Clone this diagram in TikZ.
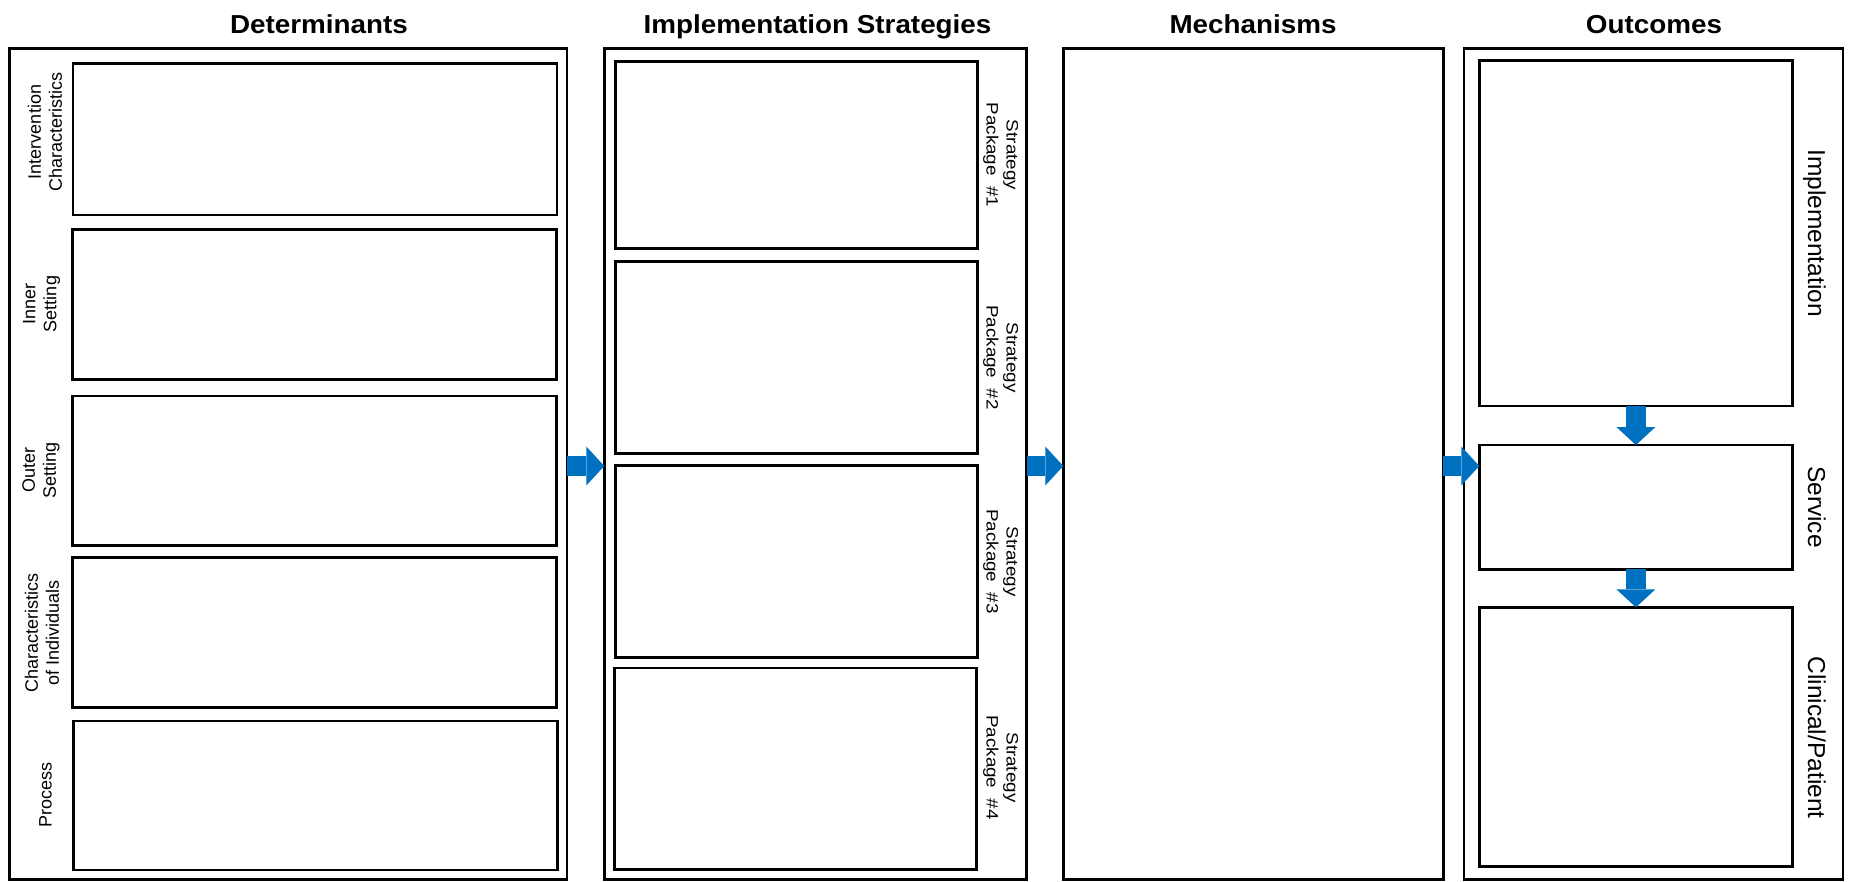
\documentclass[tikz,border=0pt]{standalone}
\usepackage{fontspec}
\setmainfont{Liberation Sans}
\usepackage{tikz}
\usetikzlibrary{arrows.meta}
\definecolor{flowblue}{HTML}{0070C0}

\begin{document}
\begin{tikzpicture}[x=1pt,y=-1pt,
	column/.style={shape=rectangle,draw=black,line width=2.5pt,inner sep=0pt,outer sep=0pt,minimum height=831pt},
	cell/.style={shape=rectangle,draw=black,line width=2.5pt,inner sep=0pt,outer sep=0pt},
	heading/.style={anchor=base,inner sep=0pt,xscale=1.07,font=\fontsize{26}{30}\selectfont\bfseries},
	detlabel/.style={rotate=90,align=center,inner sep=0pt,font=\fontsize{18}{21}\selectfont},
	pkglabel/.style={rotate=-90,xscale=1.14,align=center,inner sep=0pt,font=\fontsize{16.5}{20}\selectfont},
	outlabel/.style={rotate=-90,anchor=base,inner sep=0pt,font=\fontsize{24.5}{28}\selectfont},
	flow/.style={line width=20pt,flowblue,-{Triangle[length=18pt,width=39pt,line width=0pt]}}]
			\useasboundingbox (0,0) rectangle (1850,881);
			
			\node[heading] (hdet) at (319,33) {Determinants};
			\node[heading] (himp) at (817.5,33) {Implementation Strategies};
			\node[heading] (hmech) at (1253,33) {Mechanisms};
			\node[heading] (hout) at (1654,33) {Outcomes};
			
			\node[column,minimum width=557.5pt] (det) at (288.25,464) {};
			\node[column,minimum width=422.4pt] (imp) at (815.5,464) {};
			\node[column,minimum width=380pt] (mech) at (1253.3,464) {};
			\node[column,minimum width=379pt] (out) at (1653.5,464) {};
			
			% determinants
			\node[cell,minimum width=484pt,minimum height=151.7pt] (d1) at (315,139.15) {};
			\node[cell,minimum width=484pt,minimum height=150pt] (d2) at (314.5,304.3) {};
			\node[cell,minimum width=484pt,minimum height=149.7pt] (d3) at (314.5,470.85) {};
			\node[cell,minimum width=484pt,minimum height=150pt] (d4) at (314.5,632.7) {};
			\node[cell,minimum width=484pt,minimum height=149pt] (d5) at (315.5,795.5) {};
			\node[detlabel] (ld1) at (45,132) {Intervention\\Characteristics};
			\node[detlabel] (ld2) at (41.5,304) {Inner\\Setting};
			\node[detlabel] (ld3) at (41,470) {Outer\\Setting};
			\node[detlabel] (ld4) at (42,633) {Characteristics\\of Individuals};
			\node[detlabel] (ld5) at (45.5,795) {Process};
			
			% strategy packages
			\node[cell,minimum width=361.8pt,minimum height=186.6pt] (s1) at (796.4,155) {};
			\node[cell,minimum width=361.8pt,minimum height=191.6pt] (s2) at (796.4,357.5) {};
			\node[cell,minimum width=361.8pt,minimum height=192.4pt] (s3) at (796.4,561.5) {};
			\node[cell,minimum width=362.4pt,minimum height=201.3pt] (s4) at (795.5,768.65) {};
			\node[pkglabel] (ls1) at (1000.7,155) {Strategy\\Package\ \ \#1};
			\node[pkglabel] (ls2) at (1000.7,357.5) {Strategy\\Package\ \ \#2};
			\node[pkglabel] (ls3) at (1000.7,561.5) {Strategy\\Package\ \ \#3};
			\node[pkglabel] (ls4) at (1000.7,767.5) {Strategy\\Package\ \ \#4};
			
			% outcomes
			\node[cell,minimum width=313.2pt,minimum height=345.3pt] (o1) at (1635.9,233.35) {};
			\node[cell,minimum width=313.2pt,minimum height=124.3pt] (o2) at (1635.9,507.15) {};
			\node[cell,minimum width=313.2pt,minimum height=259.4pt] (o3) at (1635.9,737) {};
			\node[outlabel] (lo1) at (1808,233) {Implementation};
			\node[outlabel] (lo2) at (1808,507) {Service};
			\node[outlabel] (lo3) at (1808,737.5) {Clinical/Patient};
			
			\coordinate (lvl) at (0,466);
			\path [flow] (det.east |- lvl) edge (imp.west |- lvl);
			\path [flow] (imp.east |- lvl) edge (mech.west |- lvl);
			\path [flow] (mech.east |- lvl) edge (o2.west |- lvl);
			\path [flow] (o1.south) edge (o2.north);
			\path [flow] (o2.south) edge (o3.north);
			\end{tikzpicture}
\end{document}
